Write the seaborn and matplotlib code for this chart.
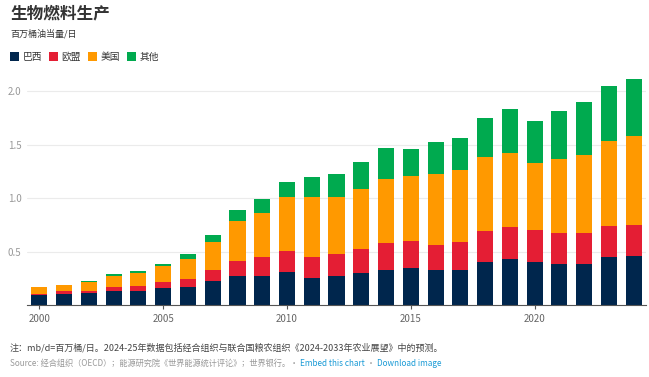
import numpy as np
import pandas as pd
import matplotlib
matplotlib.use('Agg')
import matplotlib.pyplot as plt
import seaborn as sns
from matplotlib.patches import Patch

# Datos (millones de barriles de petróleo equivalente por día)
years = list(range(2000, 2025))
brasil = [0.102, 0.111, 0.121, 0.139, 0.139, 0.164, 0.174, 0.232, 0.279, 0.279,
          0.310, 0.260, 0.273, 0.305, 0.330, 0.349, 0.330, 0.330, 0.402, 0.433,
          0.405, 0.389, 0.389, 0.448, 0.460]
ue = [0.008, 0.022, 0.018, 0.038, 0.044, 0.059, 0.077, 0.100, 0.139, 0.171,
      0.198, 0.190, 0.207, 0.223, 0.249, 0.251, 0.236, 0.261, 0.288, 0.300,
      0.297, 0.288, 0.288, 0.292, 0.292]
eeuu = [0.064, 0.059, 0.081, 0.096, 0.124, 0.146, 0.186, 0.260, 0.369, 0.414,
        0.499, 0.557, 0.527, 0.559, 0.598, 0.605, 0.664, 0.672, 0.698, 0.686,
        0.626, 0.689, 0.726, 0.793, 0.825]
otros = [0.002, 0.002, 0.012, 0.022, 0.015, 0.021, 0.043, 0.068, 0.102, 0.128,
         0.143, 0.189, 0.223, 0.248, 0.288, 0.251, 0.291, 0.295, 0.356, 0.415,
         0.395, 0.450, 0.499, 0.518, 0.539]

series = ['巴西', '欧盟', '美国', '其他']
colores = ['#00264d', '#e41e34', '#ff9900', '#00aa4f']
tick_years = [2000, 2005, 2010, 2015, 2020]

df = pd.DataFrame({'year': years, '巴西': brasil, '欧盟': ue, '美国': eeuu, '其他': otros})
acum = df[series].cumsum(axis=1)
acum['year'] = df['year']

sns.set_theme(style='white')
plt.rcParams['font.family'] = ['Noto Sans CJK SC', 'DejaVu Sans']

fig = plt.figure(figsize=(6.49, 3.77), dpi=100)
ax = fig.add_axes([0.0416, 0.1897, 0.9538, 0.6116])

# barras apiladas: se dibuja el acumulado de arriba hacia abajo
for serie, color in zip(series[::-1], colores[::-1]):
    sns.barplot(data=acum, x='year', y=serie, color=color, width=0.65,
                linewidth=0, saturation=1, ax=ax, order=years)

ax.set_xlim(-0.5, len(years) - 0.5)
ax.set_ylim(0, 2.15)
ax.set_yticks([0.5, 1.0, 1.5, 2.0])
ax.set_yticklabels(['0.5', '1.0', '1.5', '2.0'])
ax.set_xticks([years.index(y) for y in tick_years])
ax.set_xticklabels([str(y) for y in tick_years])
ax.set_xlabel('')
ax.set_ylabel('')

ax.grid(axis='y', color='#ebebeb', linewidth=0.8)
ax.set_axisbelow(True)
for s in ['top', 'right', 'left']:
    ax.spines[s].set_visible(False)
ax.spines['bottom'].set_color('#555555')
ax.spines['bottom'].set_linewidth(0.8)
ax.tick_params(axis='y', length=0, pad=4, labelsize=7, labelcolor='#999999')
ax.tick_params(axis='x', length=3, width=0.8, color='#555555', pad=3,
               labelsize=7, labelcolor='#666666', bottom=True)

# títulos
fig.text(10 / 649, 1 - 13 / 377, '生物燃料生产', fontsize=12, fontweight='bold',
         color='#333333', va='center', ha='left')
fig.text(10 / 649, 1 - 34 / 377, '百万桶油当量/日', fontsize=6.5,
         color='#333333', va='center', ha='left')

handles = [Patch(facecolor=c, edgecolor='none', label=s) for s, c in zip(series, colores)]
fig.legend(handles=handles, loc='center left', bbox_to_anchor=(1 / 649, 1 - 57 / 377),
           ncol=4, frameon=False, fontsize=7, handlelength=1.0, handleheight=1.0,
           handletextpad=0.3, columnspacing=0.7, labelcolor='#333333')

fig.text(10 / 649, 1 - 348 / 377,
         '注：mb/d=百万桶/日。2024-25年数据包括经合组织与联合国粮农组织《2024-2033年农业展望》中的预测。',
         fontsize=6.5, style='italic', color='#444444', va='center', ha='left')

# línea de fuente con enlaces
fig.canvas.draw()
renderer = fig.canvas.get_renderer()
x0 = 10 / 649
y0 = 1 - 363 / 377
partes = [('Source: 经合组织（OECD）；能源研究院《世界能源统计评论》；世界银行。· ', '#999999'),
          ('Embed this chart', '#1a9bd6'),
          (' · ', '#999999'),
          ('Download image', '#1a9bd6')]
for texto, color in partes:
    t = fig.text(x0, y0, texto, fontsize=5.9, color=color, va='center', ha='left')
    bb = t.get_window_extent(renderer=renderer)
    x0 = fig.transFigure.inverted().transform((bb.x1, bb.y0))[0]

fig.savefig('out.png', dpi=100)
